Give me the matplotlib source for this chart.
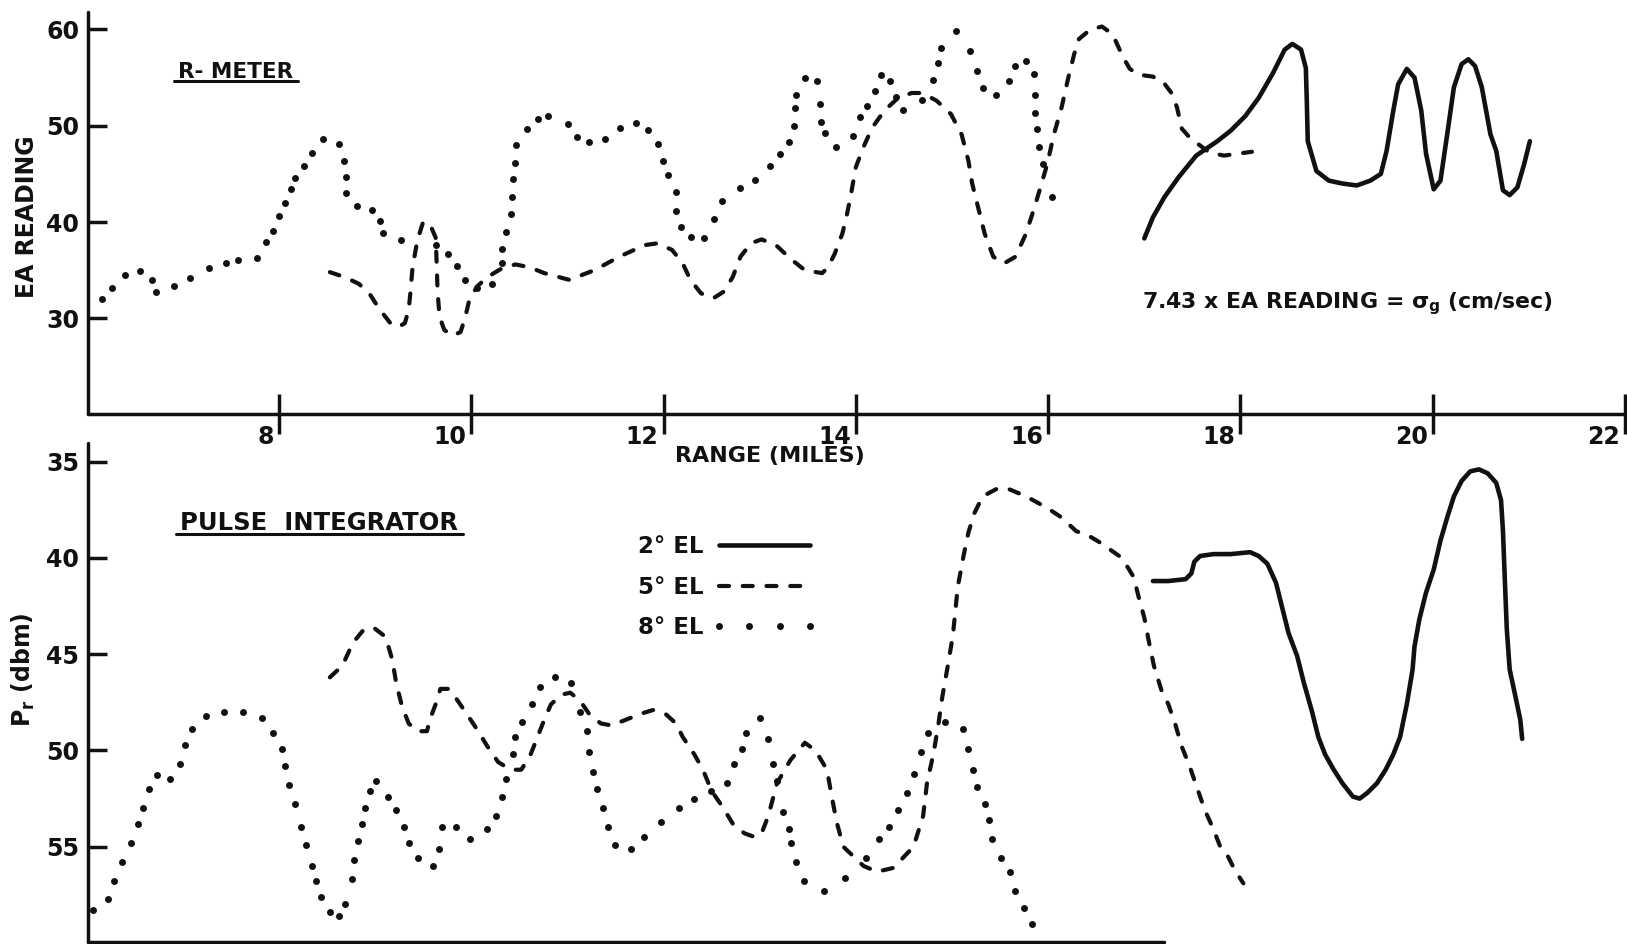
import matplotlib
matplotlib.use("Agg")
import matplotlib.pyplot as plt
from matplotlib.lines import Line2D
from matplotlib.transforms import ScaledTranslation

plt.rcParams["font.family"] = ["DejaVu Sans"]
plt.rcParams["font.weight"] = "bold"
plt.rcParams["axes.labelweight"] = "bold"
plt.rcParams["mathtext.default"] = "bf"

INK = "#111111"

# range in miles, R-meter EA reading
r_meter_8_range = [6.16, 6.26, 6.40, 6.56, 6.68, 6.72, 6.91, 7.08, 7.27, 7.45,
                   7.58, 7.77, 7.87, 7.94, 8.00, 8.06, 8.13, 8.17, 8.26, 8.34,
                   8.46, 8.62, 8.68, 8.70, 8.70, 8.81, 8.97, 9.05, 9.08, 9.27,
                   9.63, 9.76, 9.85, 9.94, 10.06, 10.22, 10.32, 10.32, 10.36, 10.41,
                   10.42, 10.43, 10.46, 10.47, 10.58, 10.69, 10.80,
                   11.01, 11.10, 11.23, 11.39, 11.55, 11.71, 11.84, 11.94, 11.99, 12.05,
                   12.13, 12.13, 12.18, 12.29, 12.42, 12.53, 12.61, 12.80, 12.95, 13.11,
                   13.21, 13.30, 13.36, 13.37, 13.38, 13.47, 13.60, 13.63, 13.64, 13.68,
                   13.79, 13.97, 14.04, 14.12, 14.20, 14.26, 14.36, 14.42, 14.49, 14.69,
                   14.80, 14.85, 14.89, 15.04, 15.19, 15.26, 15.32, 15.46, 15.59, 15.66,
                   15.77, 15.85, 15.86, 15.86, 15.88, 15.90, 15.95, 16.04]
r_meter_8_ea = [32.0, 33.2, 34.5, 34.9, 34.0, 32.7, 33.4, 34.2, 35.2, 35.8,
                36.1, 36.3, 37.9, 39.1, 40.6, 42.0, 43.4, 44.6, 45.8, 47.2,
                48.6, 48.1, 46.3, 44.7, 43.0, 41.7, 41.3, 40.1, 38.9, 38.1,
                37.6, 36.7, 35.4, 34.0, 33.2, 33.6, 35.8, 37.2, 39.0, 40.8,
                42.6, 44.5, 46.1, 48.0, 49.7, 50.7, 51.0,
                50.2, 48.8, 48.3, 48.6, 49.8, 50.3, 49.6, 48.1, 46.3, 44.9,
                43.1, 41.1, 39.5, 38.4, 38.3, 40.3, 42.2, 43.5, 44.4, 45.8,
                47.1, 48.3, 50.0, 51.8, 53.2, 55.0, 54.6, 52.3, 50.4, 49.2,
                47.8, 48.9, 50.9, 52.1, 53.6, 55.3, 54.6, 53.0, 51.6, 52.7,
                54.7, 56.5, 58.1, 59.8, 57.8, 55.7, 53.9, 53.2, 54.6, 56.2,
                56.7, 55.4, 53.2, 51.3, 49.7, 47.8, 46.0, 42.6]

r_meter_5_range = [8.53, 8.68, 8.83, 8.94, 9.05, 9.16, 9.24, 9.31, 9.35, 9.37,
                   9.39, 9.44, 9.50, 9.57, 9.63, 9.64, 9.65, 9.67, 9.72, 9.81,
                   9.89, 9.94, 9.98, 10.06, 10.17, 10.32, 10.46, 10.61, 10.76, 11.02,
                   11.28, 11.54, 11.80, 11.94, 12.09, 12.20, 12.28, 12.39, 12.52, 12.63,
                   12.72, 12.80, 12.91, 13.02, 13.17, 13.32, 13.47, 13.65, 13.71, 13.78,
                   13.86, 13.91, 13.95, 14.00, 14.08, 14.17, 14.30, 14.43, 14.58, 14.69,
                   14.84, 14.99, 15.10, 15.17, 15.21, 15.27, 15.34, 15.43, 15.54, 15.66,
                   15.77, 15.86, 15.92, 15.99, 16.06, 16.14, 16.21, 16.27, 16.32, 16.44,
                   16.56, 16.67, 16.78, 16.85, 16.94, 17.09, 17.20, 17.29, 17.34, 17.39,
                   17.47, 17.56, 17.68, 17.83, 17.97, 18.12]
r_meter_5_ea = [34.8, 34.3, 33.6, 32.6, 30.9, 29.5, 29.1, 29.5, 30.9, 32.9,
                35.3, 38.1, 40.0, 39.8, 38.4, 36.0, 32.9, 30.2, 28.8, 28.2,
                28.6, 30.2, 31.9, 33.3, 34.3, 35.2, 35.6, 35.3, 34.7, 34.0,
                35.0, 36.4, 37.6, 37.8, 37.1, 35.7, 34.0, 32.6, 32.1, 32.8,
                34.3, 36.4, 37.8, 38.2, 37.6, 36.2, 35.0, 34.7, 35.3, 36.7,
                38.8, 40.9, 42.9, 45.7, 47.8, 49.8, 51.6, 52.8, 53.4, 53.4,
                52.6, 51.2, 49.1, 46.4, 44.0, 41.6, 38.8, 36.4, 35.7, 36.4,
                38.8, 41.6, 43.6, 46.0, 49.1, 51.9, 55.0, 57.4, 59.0, 60.0,
                60.3, 59.5, 57.1, 55.9, 55.3, 55.1, 54.5, 53.3, 51.9, 49.7,
                48.8, 48.1, 47.2, 46.9, 47.1, 47.3]

r_meter_2_range = [17.00, 17.09, 17.21, 17.36, 17.54, 17.76, 17.90, 18.05, 18.19, 18.34,
                   18.46, 18.54, 18.63, 18.68, 18.69, 18.70, 18.79, 18.92, 19.06, 19.21,
                   19.35, 19.46, 19.52, 19.59, 19.64, 19.73, 19.81, 19.88, 19.93, 20.01,
                   20.08, 20.15, 20.22, 20.30, 20.37, 20.44, 20.51, 20.60, 20.66, 20.73,
                   20.80, 20.88, 20.95, 21.01]
r_meter_2_ea = [38.3, 40.5, 42.6, 44.7, 46.9, 48.4, 49.5, 51.0, 52.9, 55.5,
                57.9, 58.5, 57.9, 56.0, 52.6, 48.4, 45.3, 44.3, 44.0, 43.8,
                44.3, 45.0, 47.4, 51.6, 54.3, 55.9, 55.0, 51.6, 47.1, 43.4,
                44.3, 49.1, 54.0, 56.4, 56.9, 56.2, 54.0, 49.1, 47.4, 43.3,
                42.8, 43.6, 46.0, 48.4]

# range in miles, pulse integrator Pr (dbm)
pulse_8_range = [6.07, 6.22, 6.29, 6.37, 6.46, 6.53, 6.59, 6.65, 6.73, 6.87,
                 6.97, 7.02, 7.10, 7.24, 7.43, 7.63, 7.82, 7.94, 8.03, 8.06,
                 8.11, 8.17, 8.23, 8.28, 8.34, 8.39, 8.44, 8.53, 8.63, 8.69,
                 8.76, 8.78, 8.82, 8.86, 8.90, 8.95, 9.01, 9.13, 9.22, 9.30,
                 9.35, 9.45, 9.60, 9.66, 9.70, 9.84, 9.99, 10.16, 10.26, 10.32,
                 10.36, 10.43, 10.46, 10.53, 10.63, 10.72, 10.87, 11.04, 11.13, 11.20,
                 11.23, 11.27, 11.31, 11.37, 11.42, 11.50, 11.66, 11.80, 11.97, 12.16,
                 12.32, 12.49, 12.66, 12.73, 12.82, 12.86, 13.00, 13.09, 13.14, 13.18,
                 13.24, 13.30, 13.33, 13.38, 13.46, 13.67, 13.89, 14.11, 14.24, 14.34,
                 14.44, 14.53, 14.60, 14.68, 14.75, 14.93, 15.11, 15.17, 15.22, 15.26,
                 15.34, 15.38, 15.42, 15.51, 15.60, 15.66, 15.75, 15.83]
pulse_8_pr = [58.3, 57.7, 56.8, 55.8, 54.8, 53.8, 53.0, 52.0, 51.3, 51.5,
              50.7, 49.7, 48.9, 48.2, 48.0, 48.0, 48.3, 49.1, 49.9, 50.8,
              51.8, 52.8, 54.0, 54.9, 56.0, 56.8, 57.6, 58.4, 58.6, 58.0,
              56.7, 55.7, 54.7, 53.8, 53.0, 52.1, 51.6, 52.4, 53.1, 54.0,
              54.8, 55.6, 56.0, 55.1, 54.0, 54.0, 54.6, 54.1, 53.4, 52.4,
              51.5, 50.2, 49.3, 48.5, 47.6, 46.7, 46.2, 46.5, 48.0, 49.0,
              50.1, 51.1, 52.0, 53.0, 54.0, 54.9, 55.1, 54.5, 53.7, 53.0,
              52.5, 52.1, 51.7, 50.7, 49.9, 49.1, 48.3, 49.4, 50.7, 51.6,
              53.2, 54.1, 54.8, 55.8, 56.8, 57.3, 56.6, 55.6, 54.6, 54.0,
              53.1, 52.2, 51.2, 50.1, 49.1, 48.5, 48.9, 49.9, 51.0, 51.9,
              52.8, 53.6, 54.6, 55.6, 56.3, 57.3, 58.2, 59.0]

pulse_5_range = [8.53, 8.66, 8.77, 8.87, 8.98, 9.11, 9.18, 9.22, 9.28, 9.35,
                 9.44, 9.54, 9.57, 9.63, 9.68, 9.76, 9.83, 9.94, 10.06, 10.17,
                 10.28, 10.41, 10.52, 10.61, 10.69, 10.76, 10.83, 10.94, 11.03, 11.13,
                 11.24, 11.35, 11.46, 11.61, 11.76, 11.89, 12.02, 12.13, 12.20, 12.32,
                 12.41, 12.50, 12.61, 12.72, 12.84, 12.95, 13.02, 13.09, 13.18, 13.32,
                 13.47, 13.58, 13.70, 13.75, 13.80, 13.87, 14.08, 14.22, 14.39, 14.60,
                 14.70, 14.74, 14.81, 14.86, 14.90, 14.96, 15.01, 15.06, 15.12, 15.17,
                 15.23, 15.32, 15.47, 15.58, 15.77, 15.99, 16.14, 16.29, 16.44, 16.54,
                 16.74, 16.83, 16.89, 16.94, 17.00, 17.05, 17.10, 17.18, 17.25, 17.32,
                 17.39, 17.47, 17.56, 17.63, 17.72, 17.79, 17.87, 17.94, 18.03]
pulse_5_pr = [46.2, 45.6, 44.4, 43.8, 43.6, 44.1, 45.3, 46.5, 47.7, 48.6,
              49.0, 49.0, 48.4, 47.6, 46.8, 46.8, 47.2, 48.0, 48.9, 49.8,
              50.6, 51.0, 51.0, 50.3, 49.3, 48.4, 47.6, 47.1, 47.0, 47.4,
              48.2, 48.6, 48.7, 48.4, 48.1, 47.9, 48.1, 48.6, 49.3, 50.2,
              51.0, 52.1, 52.9, 53.8, 54.3, 54.5, 54.3, 53.4, 51.7, 50.5,
              49.6, 50.0, 51.0, 52.4, 53.7, 55.0, 56.0, 56.3, 56.1, 55.0,
              53.4, 51.7, 50.1, 48.6, 47.2, 45.5, 44.0, 41.5, 39.9, 38.7,
              37.7, 36.8, 36.4, 36.4, 36.8, 37.4, 37.9, 38.6, 38.9, 39.2,
              39.9, 40.5, 41.0, 42.0, 43.1, 44.4, 45.6, 46.9, 47.6, 48.6,
              49.8, 50.8, 52.1, 53.1, 54.1, 55.0, 55.5, 56.2, 56.9]

pulse_2_range = [17.09, 17.25, 17.43, 17.49, 17.52, 17.58, 17.72, 17.90, 18.10, 18.19,
                 18.28, 18.37, 18.43, 18.50, 18.59, 18.66, 18.74, 18.81, 18.88, 18.97,
                 19.06, 19.17, 19.24, 19.32, 19.42, 19.51, 19.59, 19.66, 19.73, 19.79,
                 19.81, 19.86, 19.93, 20.01, 20.08, 20.15, 20.22, 20.30, 20.39, 20.48,
                 20.57, 20.66, 20.71, 20.73, 20.75, 20.77, 20.80, 20.86, 20.91, 20.93]
pulse_2_pr = [41.2, 41.2, 41.1, 40.8, 40.2, 39.9, 39.8, 39.8, 39.7, 39.9,
              40.3, 41.3, 42.5, 43.9, 45.1, 46.5, 47.9, 49.3, 50.2, 51.0,
              51.7, 52.4, 52.5, 52.2, 51.7, 51.0, 50.2, 49.3, 47.6, 45.8,
              44.6, 43.2, 41.8, 40.6, 39.1, 37.9, 36.8, 36.0, 35.5, 35.4,
              35.6, 36.1, 37.0, 38.6, 41.2, 43.7, 45.8, 47.2, 48.4, 49.4]

range_ticks = [8, 10, 12, 14, 16, 18, 20, 22]
ea_ticks = [30, 40, 50, 60]
pr_ticks = [35, 40, 45, 50, 55]
elevations = ["2° EL", "5° EL", "8° EL"]

SOLID = dict(color=INK, lw=3.3, solid_capstyle="round", solid_joinstyle="round")
DASHED = dict(color=INK, lw=3.0, dashes=(2.4, 3.3), dash_capstyle="round",
              dash_joinstyle="round")
DOTTED = dict(color=INK, ls="none", marker="o", ms=5.0, mew=0)


def style_axis(ax):
    for side in ("top", "right"):
        ax.spines[side].set_visible(False)
    for side in ("left", "bottom"):
        ax.spines[side].set_linewidth(2.5)
        ax.spines[side].set_color(INK)
        ax.spines[side].set_capstyle("round")
    ax.patch.set_visible(False)
    ax.tick_params(axis="y", direction="in", length=14, width=2.5, pad=6,
                   labelsize=17, colors=INK)


def underline(fig, text, gap=1.0):
    bbox = text.get_window_extent()
    w, h = fig.bbox.width, fig.bbox.height
    y = (bbox.y0 + gap) / h
    fig.add_artist(Line2D([(bbox.x0 - 4) / w, (bbox.x1 + 5) / w], [y, y],
                          transform=fig.transFigure, color=INK, lw=2.2,
                          solid_capstyle="round"))


fig = plt.figure(figsize=(16.27, 9.44), dpi=100)
ax_top = fig.add_axes([0.0538, 0.5614, 0.9462, 0.4258])
ax_bot = fig.add_axes([0.0538, 0.0021, 0.9462, 0.5286])

# R-meter panel
style_axis(ax_top)
ax_top.plot(r_meter_8_range, r_meter_8_ea, **DOTTED)
ax_top.plot(r_meter_5_range, r_meter_5_ea, **DASHED)
ax_top.plot(r_meter_2_range, r_meter_2_ea, **SOLID)
ax_top.set_xlim(6.01, 22.02)
ax_top.set_ylim(20.07, 61.8)
ax_top.set_yticks(ea_ticks)
ax_top.set_xticks(range_ticks)
ax_top.set_xticklabels([str(t) for t in range_ticks])
ax_top.tick_params(axis="x", direction="inout", length=29.5, width=2.5,
                   pad=-6.8, labelsize=17, colors=INK)
ax_top.set_xlabel("RANGE (MILES)", fontsize=16, color=INK)
ax_top.xaxis.set_label_coords(0.443, -0.0796)
ax_top.set_ylabel("EA READING", fontsize=17, color=INK)
ax_top.yaxis.set_label_coords(-0.0315, 0.49)
title_top = ax_top.text(0.0588, 0.836, "R- METER", transform=ax_top.transAxes,
                        fontsize=15.5, color=INK, va="baseline")
ax_top.text(16.98, 31.5, r"7.43 x EA READING = $\sigma_g$ (cm/sec)",
            fontsize=15.8, color=INK, ha="left", va="center")

# pulse integrator panel
style_axis(ax_bot)
dots_8, = ax_bot.plot(pulse_8_range, pulse_8_pr, **DOTTED)
dash_5, = ax_bot.plot(pulse_5_range, pulse_5_pr, **DASHED)
line_2, = ax_bot.plot(pulse_2_range, pulse_2_pr, **SOLID)
ax_bot.set_xlim(6.01, 22.02)
ax_bot.set_ylim(59.95, 34.03)
ax_bot.set_yticks(pr_ticks)
ax_bot.set_xticks([])
ax_bot.spines["bottom"].set_bounds(6.01, 17.2)
ax_bot.set_ylabel(r"P$_r$ (dbm)", fontsize=17, color=INK)
ax_bot.yaxis.set_label_coords(-0.0328, 0.545)
title_bot = ax_bot.text(0.060, 0.8257, "PULSE  INTEGRATOR", transform=ax_bot.transAxes,
                        fontsize=17.5, color=INK, va="baseline")

ax_bot.legend([line_2, dash_5, dots_8], elevations, loc="upper left",
              bbox_to_anchor=(0.3576, 0.815), frameon=False, markerfirst=False,
              fontsize=16.5, handlelength=4.6, handletextpad=0.35, labelspacing=0.75,
              borderpad=0, borderaxespad=0, numpoints=4, labelcolor=INK)

# tick labels sit just left of their tick marks
shift = ScaledTranslation(-5 / 100, 0, fig.dpi_scale_trans)
for label in ax_top.get_xticklabels():
    label.set_horizontalalignment("right")
    label.set_transform(label.get_transform() + shift)

fig.canvas.draw()
underline(fig, title_top)
underline(fig, title_bot)

fig.savefig("out.png", dpi=100, facecolor="white")
